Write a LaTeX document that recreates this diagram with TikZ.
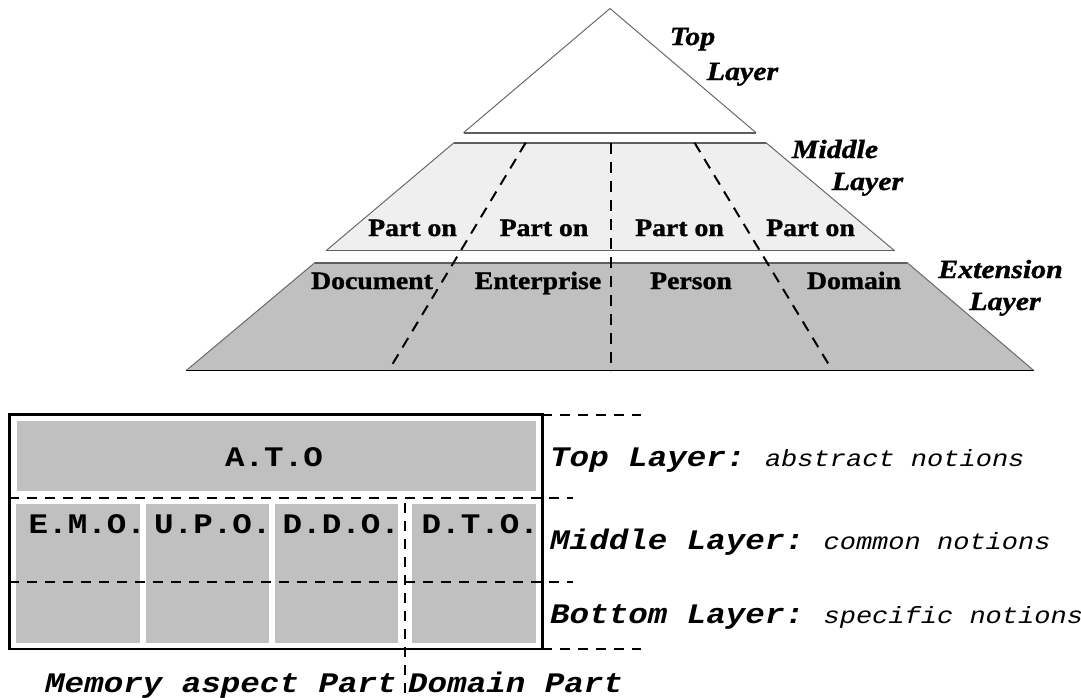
\documentclass[tikz,border=0pt]{standalone}
\usepackage{fontspec}
\newfontfamily\pyrfont[FakeStretch=1.11,FakeBold=1.2]{Liberation Serif}
\newfontfamily\pyrifont[FakeStretch=1.14,FakeBold=1.2]{Liberation Serif}
\newfontfamily\cmono[FakeStretch=1.15]{Liberation Mono}
\definecolor{extgray}{HTML}{C0C0C0}
\definecolor{midfill}{HTML}{EFEFEF}
\definecolor{edgegray}{HTML}{6A6A6A}
\definecolor{darkedge}{HTML}{5E5E5E}
\begin{document}
\begin{tikzpicture}[x=1pt,y=-1pt,
  thinedge/.style={draw=edgegray,line width=1pt},
  thickedge/.style={draw=darkedge,line width=2pt},
  pyrdash/.style={draw=black,line width=2pt,dash pattern=on 11pt off 8pt},
  boxdash/.style={draw=black,line width=2pt,dash pattern=on 10pt off 8pt},
  partlabel/.style={inner sep=0pt,anchor=base,font=\pyrfont\bfseries\fontsize{25}{27}\selectfont},
  layerlabel/.style={inner sep=0pt,anchor=base,font=\pyrifont\bfseries\itshape\fontsize{26.2}{28}\selectfont},
  monobi/.style={inner sep=0pt,anchor=base west,font=\cmono\bfseries\itshape\fontsize{28.3}{30}\selectfont},
  monob/.style={inner sep=0pt,font=\cmono\bfseries\fontsize{28.3}{30}\selectfont},
  cellbox/.style={fill=extgray}]
\useasboundingbox (0,0) rectangle (1081,697);

% ---------- pyramid coordinates ----------
\coordinate (apex) at (610,8.5);
\coordinate (tbl) at (463.5,132.7);
\coordinate (tbr) at (756,132.7);
\coordinate (mtl) at (454,142.7);
\coordinate (mtr) at (766,142.7);
\coordinate (mbr) at (894.5,250.7);
\coordinate (mbl) at (326,250.7);
\coordinate (etl) at (315,262.5);
\coordinate (etr) at (907,262.5);
\coordinate (ebr) at (1034,370.7);
\coordinate (ebl) at (186,370.7);

% top layer (triangle)
\fill[white] (apex) -- (tbr) -- (tbl) -- cycle;
\draw[thinedge] (tbl) -- (apex) -- (tbr);
\draw[thickedge] (tbl) -- (tbr);

% middle layer
\fill[midfill] (mtl) -- (mtr) -- (mbr) -- (mbl) -- cycle;
\draw[thinedge] (mtl) -- (mbl);
\draw[thinedge] (mtr) -- (mbr);
\draw[thickedge] (mtl) -- (mtr);
\draw[draw=darkedge,line width=1.5pt] (mbl) -- (mbr);

% extension layer
\fill[extgray] (etl) -- (etr) -- (ebr) -- (ebl) -- cycle;
\draw[thinedge] (etl) -- (ebl);
\draw[thinedge] (etr) -- (ebr);
\draw[thickedge] (etl) -- (etr);
\draw[draw=black,line width=1.5pt] (ebl) -- (ebr);

% dashed partition lines
\coordinate (dlt) at (525.7,142.7);
\coordinate (dlb) at (388.5,370.7);
\coordinate (dct) at (610.5,142.7);
\coordinate (dcb) at (610.5,370.7);
\coordinate (drt) at (694.5,142.7);
\coordinate (drb) at (832.5,370.7);
\draw[pyrdash] (dlt) -- (dlb);
\draw[pyrdash] (dct) -- (dcb);
\draw[pyrdash] (drt) -- (drb);

% pyramid labels
\node[partlabel] (p1) at (412.5,236) {Part on};
\node[partlabel] (p2) at (544,236) {Part on};
\node[partlabel] (p3) at (679.5,236) {Part on};
\node[partlabel] (p4) at (810.5,236) {Part on};
\node[partlabel] (e1) at (372,289) {Document};
\node[partlabel] (e2) at (538,289) {Enterprise};
\node[partlabel] (e3) at (691,289) {Person};
\node[partlabel] (e4) at (854,289) {Domain};

\node[layerlabel] (tl1) at (692.5,45) {Top};
\node[layerlabel] (tl2) at (742.5,80) {Layer};
\node[layerlabel] (ml1) at (835,158) {Middle};
\node[layerlabel] (ml2) at (867.5,190) {Layer};
\node[layerlabel] (xl1) at (1000.5,278) {Extension};
\node[layerlabel] (xl2) at (1005,310) {Layer};

% ---------- lower table ----------
\fill[cellbox] (16.5,420.7) rectangle (535.8,490.5);
\fill[cellbox] (16.3,504.3) rectangle (140,642.7);
\fill[cellbox] (146,504.3) rectangle (269.4,642.7);
\fill[cellbox] (275,504.3) rectangle (398.3,642.7);
\fill[cellbox] (412,504.3) rectangle (535.8,642.7);
\draw[line width=2.5pt] (9.3,414.5) rectangle (542.3,649);

\coordinate (h1l) at (9.3,497.5);
\coordinate (h1r) at (573,497.5);
\coordinate (h2l) at (9.3,581.5);
\coordinate (h2r) at (573,581.5);
\coordinate (h0l) at (542.3,414.5);
\coordinate (h0r) at (641,414.5);
\coordinate (h3l) at (542.3,648.5);
\coordinate (h3r) at (641,648.5);
\coordinate (vt) at (404.5,503);
\coordinate (vb) at (404.5,697);
\draw[boxdash] (h1l) -- (h1r);
\draw[boxdash] (h2l) -- (h2r);
\draw[boxdash] (h0l) -- (h0r);
\draw[boxdash] (h3l) -- (h3r);
\draw[boxdash] (vt) -- (vb);

\node[monob,anchor=base] (ato) at (274,466.7) {A.T.O};
\node[monob,anchor=base west] (emo) at (28.5,533) {E.M.O.};
\node[monob,anchor=base west] (upo) at (154,533) {U.P.O.};
\node[monob,anchor=base west] (ddo) at (282.5,533) {D.D.O.};
\node[monob,anchor=base west] (dto) at (421.5,533) {D.T.O.};

\node[monobi] (rl1) at (550,466) {Top Layer:\hspace{19.5pt}{\mdseries\fontsize{23.5}{25}\selectfont abstract notions}};
\node[monobi] (rl2) at (550,549) {Middle Layer:\hspace{19.5pt}{\mdseries\fontsize{23.5}{25}\selectfont common notions}};
\node[monobi] (rl3) at (550,623) {Bottom Layer:\hspace{19.5pt}{\mdseries\fontsize{23.5}{25}\selectfont specific notions}};

\node[monobi] (mem) at (45,692) {Memory aspect Part};
\node[monobi] (dom) at (408,692) {Domain Part};
\end{tikzpicture}
\end{document}
